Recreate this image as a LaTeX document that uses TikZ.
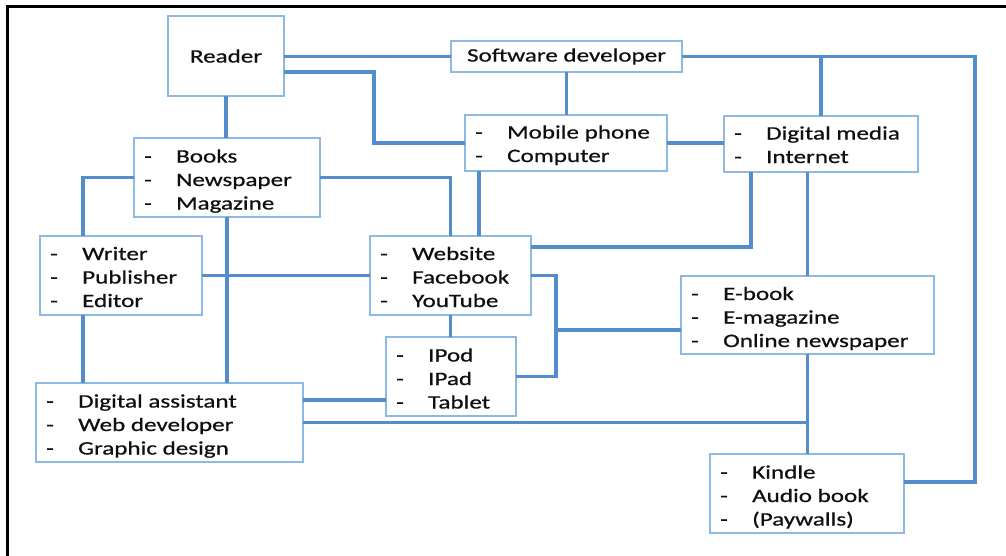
\documentclass[tikz,border=0pt]{standalone}
\usepackage{fontspec}
\setmainfont{Carlito}[FakeStretch=1.32,FakeBold=0.6]
\usetikzlibrary{calc}
\definecolor{boxblue}{RGB}{141,185,228}
\definecolor{lineblue}{RGB}{84,141,204}
\definecolor{textc}{RGB}{15,15,15}
\newcommand\mkbox[6]{\node[box, minimum width={#4-#2}, minimum height={#5-#3}] (#1) at (#2,#3) {#6};}
\newcommand\mklist[3]{\node[lst] (#1T) at ($(#1.north west)+(10,#2)$) {\begin{tabular}[t]{@{}p{32pt}@{}l@{}}#3\end{tabular}};}
\begin{document}
\begin{tikzpicture}[x=1pt,y=-1pt,
  box/.style={draw=boxblue, line width=2pt, fill=white, inner sep=0pt, outer sep=0pt, anchor=north west, text=textc, font=\fontsize{19}{23.5}\selectfont},
  conn/.style={draw=lineblue, line width=3.2pt},
  lst/.style={anchor=base west, inner sep=0pt, text=textc, font=\fontsize{19}{23.5}\selectfont},
  frame/.style={draw=black, line width=3pt}]
\useasboundingbox (0,0) rectangle (1006,555);
\draw[frame] (7,560) -- (7,6) -- (1010,6);
% boxes
\mkbox{reader}{168}{16}{284}{96}{\raisebox{-2pt}{Reader}}
\mkbox{sw}{451}{41}{682}{72}{Software developer}
\mkbox{mobile}{465}{115}{667}{171}{}
\mkbox{dm}{724}{116}{918}{172}{}
\mkbox{books}{134}{138}{320}{217}{}
\mkbox{writer}{40}{236}{202}{315}{}
\mkbox{website}{370}{236}{531}{315}{}
\mkbox{ebook}{681}{276}{934}{354}{}
\mkbox{ipod}{386}{337}{516}{416}{}
\mkbox{da}{36}{383}{303}{462}{}
\mkbox{kindle}{710}{454}{904}{533}{}
% lists
\mklist{mobile}{23.5}{- & Mobile phone\\ - & Computer}
\mklist{dm}{23.5}{- & Digital media\\ - & Internet}
\mklist{books}{24.5}{- & Books\\ - & Newspaper\\ - & Magazine}
\mklist{writer}{24}{- & Writer\\ - & Publisher\\ - & Editor}
\mklist{website}{24}{- & Website\\ - & Facebook\\ - & YouTube}
\mklist{ebook}{24}{- & E-book\\ - & E-magazine\\ - & Online newspaper}
\mklist{ipod}{24.5}{- & IPod\\ - & IPad\\ - & Tablet}
\mklist{da}{24.5}{- & Digital assistant\\ - & Web developer\\ - & Graphic design}
\mklist{kindle}{24.5}{- & Kindle\\ - & Audio book\\ - & (Paywalls)}
% connector bend points
\coordinate (b1) at (374,143);
\coordinate (b2) at (975,482);
\coordinate (j1) at (556,330);
% connectors
\draw[conn] (reader.east |- sw.west) -- (sw.west);
\draw[conn] ([yshift=-16pt]reader.east) -| (b1) -- (mobile.west);
\draw[conn] (reader.south) -- (reader.south |- books.north);
\draw[conn] (sw.south) -- (sw.south |- mobile.north);
\draw[conn] (sw.east) -| (b2) -- ([yshift=-28pt]kindle.north east);
\draw[conn] (dm.north) -- (dm.north |- sw.east);
\draw[conn] (mobile.east) -- (mobile.east -| dm.west);
\draw[conn] (books.west) -| ([xshift=43pt]writer.north west);
\draw[conn] (books.east) -| (website.north);
\draw[conn] ([xshift=14pt]mobile.south west) -- ([xshift=14pt]mobile.south west |- website.north);
\draw[conn] (books.south) -- (books.south |- da.north);
\draw[conn] (writer.east) -- (writer.east -| website.west);
\draw[conn] ([xshift=43pt]writer.south west) -- ([xshift=43pt]writer.south west |- da.north);
\draw[conn] ([xshift=27pt]dm.south west) |- ([yshift=-11pt]website.north east);
\draw[conn] (ebook.north) -- (ebook.north |- dm.south);
\draw[conn] (website.east) -| ([xshift=40pt]ipod.east) -- (ipod.east);
\draw[conn] (j1) -- (j1 -| ebook.west);
\draw[conn] (website.south) -- (website.south |- ipod.north);
\draw[conn] ([yshift=-17pt]da.north east) -- ([yshift=-17pt]da.north east -| ipod.west);
\draw[conn] (da.east) -- (da.east -| kindle.north);
\draw[conn] (ebook.south) -- (ebook.south |- kindle.north);
\end{tikzpicture}
\end{document}
